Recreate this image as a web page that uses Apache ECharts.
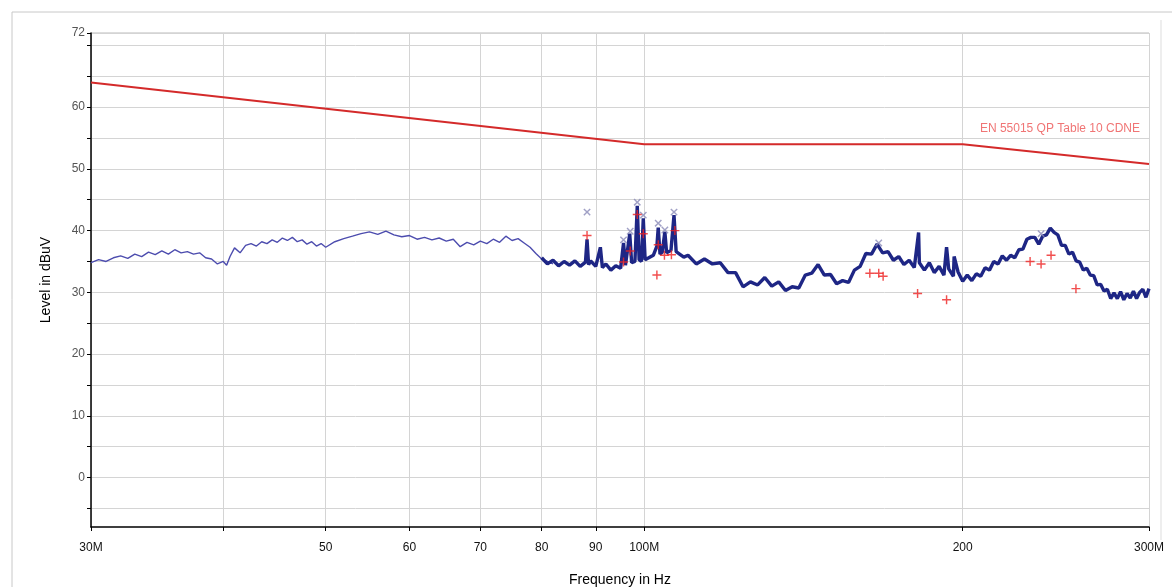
<!DOCTYPE html>
<html>
<head>
<meta charset="utf-8">
<title>EN 55015 CDNE scan</title>
<script src="https://cdn.jsdelivr.net/npm/echarts@6/dist/echarts.min.js"></script>
<style>
  html, body { margin: 0; padding: 0; background: #fff; }
  #chart { width: 1172px; height: 587px; }
</style>
</head>
<body>
<div id="chart"></div>
<script>
// limit line (MHz, dBuV)
var limitFreq = [30, 100, 200, 300];
var limitLevel = [64, 54, 54, 50.8];

// scan trace, lower part (30 - 82 MHz)
var scanFreqLow = [30, 30.5, 31, 31.5, 32, 32.5, 33, 33.5, 34, 34.5, 35, 35.5, 36, 36.5, 37, 37.5, 38, 38.5, 39, 39.5,
  40, 40.3, 40.6, 41, 41.5, 42, 42.5, 43, 43.5, 44, 44.5, 45, 45.5, 46, 46.5, 47, 47.5, 48, 48.5, 49, 49.5,
  50, 51, 52, 53, 54, 55, 56, 57, 58, 59, 60, 61, 62, 63, 64, 65, 66, 67, 68, 69, 70, 71, 72, 73, 74, 75,
  76, 77, 78, 79, 80, 81, 82];
var scanLevelLow = [34.8, 35.3, 35.0, 35.6, 35.9, 35.5, 36.2, 35.8, 36.5, 36.1, 36.7, 36.2, 36.9, 36.4, 36.6, 36.2, 36.4, 35.6, 35.4, 34.6,
  35.0, 34.4, 35.8, 37.2, 36.4, 37.6, 37.9, 37.5, 38.2, 37.9, 38.5, 38.1, 38.8, 38.4, 38.9, 38.2, 38.5, 37.8, 38.2, 37.5, 37.9,
  37.3, 38.2, 38.7, 39.1, 39.5, 39.8, 39.4, 39.9, 39.3, 39.0, 39.2, 38.6, 38.9, 38.5, 38.8, 38.3, 38.6, 37.4, 38.1, 37.7, 38.3, 37.9, 38.6, 38.1, 39.1, 38.4,
  38.7, 38.0, 37.3, 36.3, 35.4, 35.0, 34.6];

// scan trace, upper part (80 - 300 MHz)
var scanFreqHigh = [80, 81, 82, 83, 84, 85, 86, 87, 88, 88.3, 88.6, 89, 90, 90.9, 91.3, 92, 93, 94, 95, 95.6, 96, 96.9, 97.3, 98,
  98.5, 98.9, 99.4, 99.8, 100.2, 101, 102, 102.8, 103.1, 103.5, 104, 104.6, 105, 106, 106.7, 107.2, 108, 109, 110,
  112, 114, 116, 118, 120, 122, 124, 126, 128, 130, 132, 134, 136, 138, 140, 142, 144, 146, 148, 150, 152, 154, 156, 158,
  160, 162, 164, 166, 168, 170, 172, 174, 176, 178, 180, 181.7, 182, 184, 186, 188, 190, 192, 193.1, 194, 196, 196.3, 198,
  200, 202, 204, 206, 208, 210, 212, 214, 216, 218, 220, 222, 224, 226, 228, 230, 232, 234, 236, 238, 240, 242, 244, 246, 248,
  250, 252, 254, 256, 258, 260, 262, 264, 266, 268, 270, 272, 274, 276, 278, 280, 282, 284, 286, 288, 290, 292, 294, 296, 298, 300];
var scanLevelHigh = [35.6, 34.6, 35.2, 34.3, 35.0, 34.4, 35.1, 34.2, 34.9, 38.6, 34.5, 35.1, 34.2, 37.3, 34.0, 34.6, 33.6, 34.3, 33.9, 38.0, 34.4, 39.5, 34.8, 35.0,
  44.0, 35.3, 35.0, 42.0, 35.3, 35.6, 36.0, 37.5, 40.5, 36.2, 36.5, 39.8, 36.4, 36.8, 42.5, 36.6, 36.2, 35.7, 36.0,
  34.6, 35.4, 34.6, 34.8, 33.2, 33.2, 30.9, 31.7, 31.2, 32.4, 31.0, 31.7, 30.3, 30.9, 30.7, 32.8, 33.1, 34.5, 32.8, 32.9, 31.4, 31.9, 31.6, 33.6,
  34.2, 36.3, 36.2, 37.8, 36.4, 36.6, 35.2, 35.8, 34.5, 35.2, 34.0, 39.7, 34.8, 33.6, 34.8, 33.2, 34.2, 32.8, 37.3, 33.8, 32.6, 35.8, 33.3,
  31.8, 32.8, 31.9, 33.0, 32.6, 34.0, 33.6, 35.0, 34.6, 35.9, 35.2, 36.0, 35.6, 36.9, 37.0, 38.6, 38.9, 38.9, 37.8, 39.1, 39.3, 40.4, 39.7, 39.3, 37.6,
  37.6, 36.2, 36.5, 35.1, 34.9, 33.6, 33.9, 32.8, 32.7, 31.2, 31.3, 30.2, 30.5, 29.0, 29.9, 29.0, 30.1, 28.8, 29.8, 29.1, 30.2, 29.0, 30.0, 30.5, 29.2, 30.6];

// peak detector finals (x markers)
var peakFreq = [88.3, 95.6, 97.0, 98.5, 99.8, 103.1, 104.6, 106.7, 166.6, 237.2];
var peakLevel = [43.0, 38.5, 39.9, 44.6, 42.5, 41.2, 40.1, 43.0, 38.0, 39.5];

// quasi-peak finals (+ markers)
var qpFreq = [88.3, 95.6, 97.0, 98.5, 99.8, 102.8, 103.1, 104.5, 106.1, 106.9, 163.4, 166.6, 168.2, 181.3, 193.1, 231.6, 237.2, 242.4, 255.9];
var qpLevel = [39.2, 34.9, 36.7, 42.6, 39.5, 32.8, 37.7, 36.0, 36.1, 40.0, 33.1, 33.1, 32.6, 29.8, 28.8, 35.0, 34.6, 36.0, 30.6];

var xLabelValues = [30, 50, 60, 70, 80, 90, 100, 200, 300];
var xTickValues = [30, 40, 50, 60, 70, 80, 90, 100, 200, 300];
var yLabelValues = [0, 10, 20, 30, 40, 50, 60, 72];
var yTickValues = [-5, 0, 5, 10, 15, 20, 25, 30, 35, 40, 45, 50, 55, 60, 65, 70, 72];

function pairs(xs, ys) {
  return xs.map(function (x, i) { return [x, ys[i]]; });
}

var plusPath = 'path://M4.2,0h1.6v4.2h4.2v1.6h-4.2v4.2h-1.6v-4.2h-4.2v-1.6h4.2z';

var chart = echarts.init(document.getElementById('chart'));
chart.setOption({
  animation: false,
  backgroundColor: '#fff',
  textStyle: { fontFamily: 'Liberation Sans, Arial, sans-serif' },
  grid: { left: 91, right: 23, top: 33, bottom: 60, outerBoundsMode: 'none', containLabel: false },
  xAxis: {
    type: 'log',
    logBase: 10,
    min: 30,
    max: 300,
    name: 'Frequency in Hz',
    nameLocation: 'middle',
    nameGap: 46,
    nameTextStyle: { fontSize: 14, color: '#000' },
    axisLine: { onZero: false, lineStyle: { color: '#000', width: 1.5 } },
    axisTick: { customValues: xTickValues, length: 4, lineStyle: { color: '#000' } },
    axisLabel: {
      customValues: xLabelValues,
      margin: 15,
      fontSize: 12,
      color: '#111',
      formatter: function (v) {
        if (v === 30) return '30M';
        if (v === 100) return '100M';
        if (v === 300) return '300M';
        return String(v);
      }
    },
    splitLine: { show: true, lineStyle: { color: '#d4d4d4', width: 1 } }
  },
  yAxis: {
    type: 'value',
    min: -8,
    max: 72,
    name: 'Level in dBuV',
    nameLocation: 'middle',
    nameGap: 38,
    nameTextStyle: { fontSize: 14, color: '#000' },
    axisLine: { show: true, lineStyle: { color: '#000', width: 1.5 } },
    axisTick: { show: true, customValues: yTickValues, length: 4, lineStyle: { color: '#000' } },
    axisLabel: { customValues: yLabelValues, fontSize: 12, color: '#555', margin: 6 },
    splitLine: { show: true, lineStyle: { color: '#d4d4d4', width: 1 } }
  },
  graphic: [
    { type: 'line', shape: { x1: 12, y1: 12, x2: 1172, y2: 12 }, style: { stroke: '#c8c8c8', lineWidth: 1 } },
    { type: 'line', shape: { x1: 12, y1: 12, x2: 12, y2: 587 }, style: { stroke: '#c8c8c8', lineWidth: 1 } },
    { type: 'line', shape: { x1: 91, y1: 33, x2: 1149, y2: 33 }, style: { stroke: '#bbb', lineWidth: 1 } },
    { type: 'line', shape: { x1: 1161, y1: 20, x2: 1161, y2: 540 }, style: { stroke: '#ddd', lineWidth: 1 } },
    {
      type: 'text', right: 32, top: 123,
      style: { text: 'EN 55015 QP Table 10 CDNE', fill: '#f07575', fontSize: 12, fontFamily: 'Liberation Sans, Arial, sans-serif' }
    }
  ],
  series: [
    {
      name: 'limit',
      type: 'line',
      data: pairs(limitFreq, limitLevel),
      symbol: 'none',
      lineStyle: { color: '#d42a2a', width: 2 },
      z: 3
    },
    {
      name: 'scan low',
      type: 'line',
      data: pairs(scanFreqLow, scanLevelLow),
      symbol: 'none',
      lineStyle: { color: '#4c4cae', width: 1.4 },
      z: 4
    },
    {
      name: 'scan high',
      type: 'line',
      data: pairs(scanFreqHigh, scanLevelHigh),
      symbol: 'none',
      lineStyle: { color: '#1e2685', width: 3.4 },
      z: 4
    },
    {
      name: 'peak',
      type: 'scatter',
      data: pairs(peakFreq, peakLevel),
      symbol: plusPath,
      symbolRotate: 45,
      symbolSize: 9,
      itemStyle: { color: '#8a8ab8' },
      z: 5
    },
    {
      name: 'qp',
      type: 'scatter',
      data: pairs(qpFreq, qpLevel),
      symbol: plusPath,
      symbolSize: 9,
      itemStyle: { color: '#ee2222' },
      z: 6
    }
  ]
});
</script>
</body>
</html>
